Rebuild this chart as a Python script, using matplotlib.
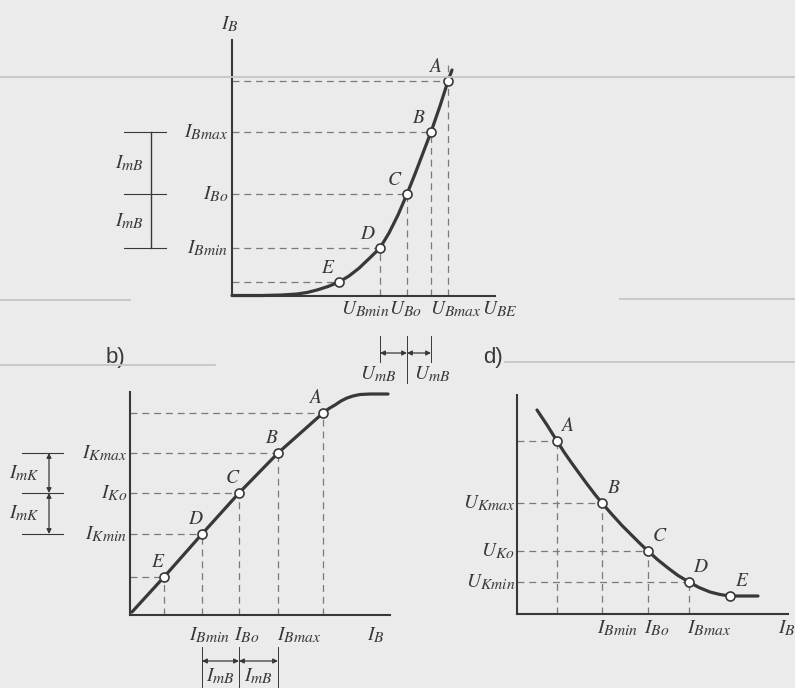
import matplotlib
matplotlib.use("Agg")
import matplotlib.pyplot as plt
from matplotlib.lines import Line2D
import matplotlib._mathtext as mathtext_internal

# the book uses fairly large subscripts
mathtext_internal.SHRINK_FACTOR = 0.8

plt.rcParams["mathtext.fontset"] = "stix"
plt.rcParams["font.family"] = "STIXGeneral"
plt.rcParams["lines.scale_dashes"] = False

# ---- values (1 unit = 10 px of the original) ----
point_names = ["A", "B", "C", "D", "E"]

# a) input characteristic I_B = f(U_BE)
a_ube = [21.6, 19.9, 17.5, 14.8, 10.7]
a_ib = [21.5, 16.4, 10.2, 4.8, 1.4]
a_curve_u = [0, 3, 5, 6.5, 7.5, 8.5, 9.6, 10.7, 11.7, 12.7, 13.7, 14.8,
             15.7, 16.6, 17.5, 18.3, 19.1, 19.9, 20.8, 21.6, 22.0]
a_curve_i = [0.05, 0.05, 0.1, 0.2, 0.35, 0.6, 0.95, 1.4, 2.0, 2.78, 3.73, 4.8,
             6.3, 8.1, 10.2, 12.2, 14.3, 16.4, 19.0, 21.5, 22.6]
a_xlabels = ["$U_{Bmin}$", "$U_{Bo}$", "$U_{Bmax}$", "$U_{BE}$"]
a_ylabels = ["$I_{Bmax}$", "$I_{Bo}$", "$I_{Bmin}$"]

# b) transfer characteristic I_K = f(I_B)
b_ib = [19.3, 14.8, 10.9, 7.2, 3.4]
b_ik = [20.2, 16.2, 12.2, 8.1, 3.8]
b_curve_x = [0.2, 3.4, 7.2, 10.9, 14.8, 19.3, 19.9, 20.5, 21.1, 21.7, 22.3,
             23.0, 24.0, 25.8]
b_curve_y = [0.3, 3.8, 8.1, 12.2, 16.2, 20.2, 20.65, 21.0, 21.4, 21.7, 21.9,
             22.05, 22.1, 22.1]
b_xlabels = ["$I_{Bmin}$", "$I_{Bo}$", "$I_{Bmax}$", "$I_{B}$"]
b_ylabels = ["$I_{Kmax}$", "$I_{Ko}$", "$I_{Kmin}$"]

# d) output voltage U_K = f(I_B)
d_ib = [4.0, 8.5, 13.1, 17.2, 21.3]
d_uk = [17.3, 11.1, 6.3, 3.2, 1.8]
d_curve_x = [2.0, 2.5, 3.0, 3.5, 4.0, 4.7, 5.5, 6.3, 7.0, 7.8, 8.5, 9.5,
             10.5, 11.5, 12.3, 13.1, 14.1, 15.1, 16.1, 17.2, 18.2, 19.3,
             20.3, 21.3, 22.5, 24.1]
d_curve_y = [20.4, 19.65, 18.9, 18.1, 17.3, 16.2, 15.05, 13.95, 13.0, 11.95,
             11.1, 9.95, 8.85, 7.85, 7.05, 6.3, 5.4, 4.6, 3.85, 3.2, 2.65,
             2.2, 1.95, 1.8, 1.8, 1.8]
d_xlabels = ["$I_{Bmin}$", "$I_{Bo}$", "$I_{Bmax}$", "$I_{B}$"]
d_ylabels = ["$U_{Kmax}$", "$U_{Ko}$", "$U_{Kmin}$"]

ink = "#383838"
W, H = 795, 688
fig = plt.figure(figsize=(W / 100, H / 100), dpi=100, facecolor="#ebebeb")

# faint scanner streaks
for y, x0, x1 in [(77, 0, 795), (300, 0, 130), (299, 620, 795),
                  (365, 0, 215), (362, 505, 795)]:
    fig.add_artist(Line2D([x0 / W, x1 / W], [1 - y / H] * 2, color="#c6c6c6",
                          lw=1.3, transform=fig.transFigure))


def make_axes(x0, y0, w, h):
    # x0, y0 = pixel position of the origin, w, h = axis lengths in px
    ax = fig.add_axes([x0 / W, 1 - y0 / H, w / W, h / H])
    ax.set_xlim(0, w / 10)
    ax.set_ylim(0, h / 10)
    ax.patch.set_visible(False)
    for s in ["top", "right"]:
        ax.spines[s].set_visible(False)
    for s in ["left", "bottom"]:
        ax.spines[s].set_color(ink)
        ax.spines[s].set_linewidth(1.5)
    ax.set_xticks([])
    ax.set_yticks([])
    return ax


dash = dict(color="#7a7a7a", lw=0.9, ls=(0, (5, 3.5)), clip_on=False)
txt = dict(color=ink, fontsize=14)


def guides(ax, xs, ys, h_idx, v_idx):
    for i in h_idx:
        ax.plot([0, xs[i]], [ys[i], ys[i]], **dash)
    for i in v_idx:
        ax.plot([xs[i], xs[i]], [0, ys[i]], **dash)


def curve(ax, cx, cy, xs, ys, offset):
    ax.plot(cx, cy, color=ink, lw=2.3, solid_capstyle="round",
            solid_joinstyle="round", clip_on=False)
    ax.plot(xs, ys, "o", ms=6.5, mfc="white", mec=ink, mew=1.2, clip_on=False)
    for name, x, y in zip(point_names, xs, ys):
        ax.annotate(name, (x, y), xytext=offset, textcoords="offset points",
                    ha="center", va="center", style="italic", **txt)


def arrow(ax, x0, y0, x1, y1):
    ax.annotate("", xy=(x1, y1), xytext=(x0, y0), annotation_clip=False,
                arrowprops=dict(arrowstyle="<|-|>", color=ink, lw=0.9,
                                mutation_scale=7, shrinkA=0, shrinkB=0))


# ---------------- a) ----------------
ax_a = make_axes(232, 296, 263, 256)
guides(ax_a, a_ube, a_ib, [0, 1, 2, 3, 4], [1, 2, 3])
ax_a.plot([a_ube[0], a_ube[0]], [0, 23.1], **dash)
curve(ax_a, a_curve_u, a_curve_i, a_ube, a_ib, (-9, 10))

ax_a.text(-0.2, 27.2, "$I_{B}$", ha="center", va="center", **txt)
for lab, y in zip(a_ylabels, a_ib[1:4]):
    ax_a.text(-0.4, y, lab, ha="right", va="center", **txt)
for lab, x in zip(a_xlabels, [13.3, 17.3, 22.4, 26.8]):
    ax_a.text(x, -1.3, lab, ha="center", va="center", **txt)

# I_mB bracket on the left
ax_a.plot([-8.1, -8.1], [a_ib[3], a_ib[1]], color=ink, lw=1.0, clip_on=False)
for y in a_ib[1:4]:
    ax_a.plot([-10.8, -6.6], [y, y], color=ink, lw=0.8, clip_on=False)
for y0, y1 in [(a_ib[1], a_ib[2]), (a_ib[2], a_ib[3])]:
    ax_a.text(-10.2, (y0 + y1) / 2, "$I_{mB}$", ha="center", va="center", **txt)

# U_mB below the axis
for x, ybot in zip(a_ube[1:4], [-6.6, -8.7, -6.6]):
    ax_a.plot([x, x], [-4.0, ybot], color=ink, lw=0.7, clip_on=False)
arrow(ax_a, a_ube[3], -5.7, a_ube[2], -5.7)
arrow(ax_a, a_ube[2], -5.7, a_ube[1], -5.7)
for x in [14.6, 20.0]:
    ax_a.text(x, -7.8, "$U_{mB}$", ha="center", va="center", **txt)

# ---------------- b) ----------------
ax_b = make_axes(130, 615, 260, 223)
guides(ax_b, b_ib, b_ik, [0, 1, 2, 3, 4], [0, 1, 2, 3, 4])
curve(ax_b, b_curve_x, b_curve_y, b_ib, b_ik, (-5, 11))
ax_b.text(-1.5, 25.8, "b)", ha="center", va="center", color=ink,
          fontsize=16, family="Liberation Sans")

for lab, y in zip(b_ylabels, b_ik[1:4]):
    ax_b.text(-0.3, y, lab, ha="right", va="center", **txt)
for lab, x in zip(b_xlabels, [8.0, 11.7, 16.9, 24.6]):
    ax_b.text(x, -2.0, lab, ha="center", va="center", **txt)

# I_mK bracket on the left
for y in b_ik[1:4]:
    ax_b.plot([-10.8, -6.7], [y, y], color=ink, lw=0.8, clip_on=False)
arrow(ax_b, -8.1, b_ik[1], -8.1, b_ik[2])
arrow(ax_b, -8.1, b_ik[2], -8.1, b_ik[3])
for y0, y1 in [(b_ik[1], b_ik[2]), (b_ik[2], b_ik[3])]:
    ax_b.text(-10.5, (y0 + y1) / 2, "$I_{mK}$", ha="center", va="center", **txt)

# I_mB below the axis
for x in b_ib[1:4]:
    ax_b.plot([x, x], [-3.2, -7.3], color=ink, lw=0.7, clip_on=False)
arrow(ax_b, b_ib[3], -4.6, b_ib[2], -4.6)
arrow(ax_b, b_ib[2], -4.6, b_ib[1], -4.6)
for x0, x1 in [(b_ib[3], b_ib[2]), (b_ib[2], b_ib[1])]:
    ax_b.text((x0 + x1) / 2, -6.1, "$I_{mB}$", ha="center", va="center", **txt)

# ---------------- d) ----------------
ax_d = make_axes(517, 614, 271, 219)
guides(ax_d, d_ib, d_uk, [0, 1, 2, 3], [0, 1, 2, 3])
curve(ax_d, d_curve_x, d_curve_y, d_ib, d_uk, (8, 11))
ax_d.text(-2.4, 25.6, "d)", ha="center", va="center", color=ink,
          fontsize=16, family="Liberation Sans")

for lab, y in zip(d_ylabels, d_uk[1:4]):
    ax_d.text(-0.2, y, lab, ha="right", va="center", **txt)
for lab, x in zip(d_xlabels, [10.1, 14.0, 19.2, 27.0]):
    ax_d.text(x, -1.4, lab, ha="center", va="center", **txt)

fig.savefig("out.png", dpi=100, facecolor=fig.get_facecolor())
